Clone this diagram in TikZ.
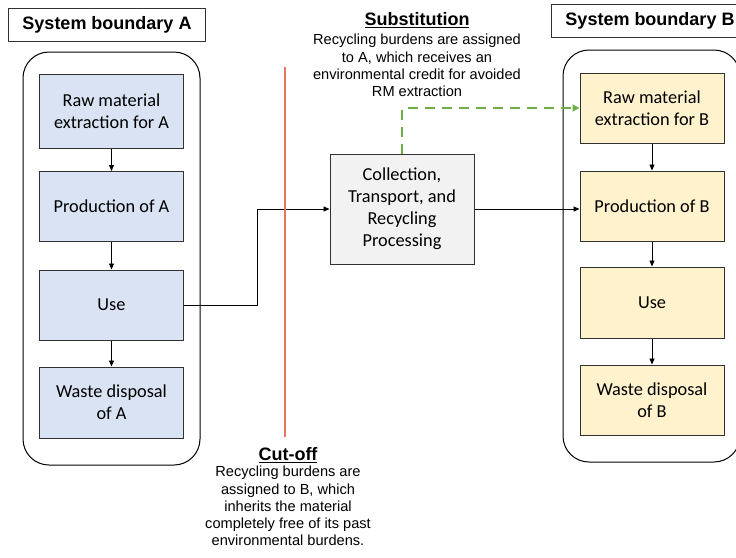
\documentclass[tikz,border=0pt]{standalone}
\usepackage{fontspec}
\setmainfont{Liberation Sans}
\newfontfamily\boxfont{Carlito}
\usetikzlibrary{arrows.meta}
\definecolor{fillA}{RGB}{218,227,243}
\definecolor{fillB}{RGB}{255,242,204}
\definecolor{fillC}{RGB}{242,242,242}
\definecolor{edge}{RGB}{50,50,50}
\definecolor{credit}{RGB}{112,173,71}
\definecolor{cutline}{RGB}{232,116,92}
\tikzset{
  stage/.style={draw=edge, line width=1pt, minimum width=144pt, align=center,
    font=\boxfont\fontsize{18.3}{22}\selectfont, inner sep=1pt},
  stageA/.style={stage, fill=fillA},
  stageB/.style={stage, fill=fillB},
  boundary/.style={draw=black, line width=1pt, rounded corners=26pt},
  tag/.style={draw=edge, line width=1pt, fill=white, font=\bfseries\fontsize{18}{20}\selectfont,
    minimum width=197pt, minimum height=33pt},
  flow/.style={draw=black, line width=0.9pt, -{Triangle[length=6pt,width=5pt]}},
  note/.style={align=center, font=\fontsize{14.6}{17.3}\selectfont, inner sep=0pt},
  notehead/.style={font=\bfseries\fontsize{18}{20}\selectfont, inner sep=0pt}
}
\begin{document}
\begin{tikzpicture}[x=1pt,y=-1pt]
\useasboundingbox (0,0) rectangle (736,557);

% system boundaries
\draw[boundary] (23,52) rectangle (200,465);
\draw[boundary] (563,50) rectangle (740,462);
\node[tag, anchor=north west] (tagA) at (8,8) {System boundary A};
\node[tag, anchor=north west] (tagB) at (551,4) {System boundary B};

% product system A
\node[stageA, minimum height=74pt] (rawA) at (111.5,111) {Raw material\\extraction for A};
\node[stageA, minimum height=70pt] (prodA) at (111.5,206.5) {Production of A};
\node[stageA, minimum height=70pt] (useA) at (111.5,305) {Use};
\node[stageA, minimum height=71pt] (wasteA) at (111.5,402.5) {Waste disposal\\of A};

% product system B
\node[stageB, minimum height=70pt] (rawB) at (652,108) {Raw material\\extraction for B};
\node[stageB, minimum height=70pt] (prodB) at (652,206) {Production of B};
\node[stageB, minimum height=71pt] (useB) at (652,302.5) {Use};
\node[stageB, minimum height=70pt] (wasteB) at (652,400) {Waste disposal\\of B};

% recycling process
\node[stage, fill=fillC, minimum height=110pt] (recyc) at (402,209)
  {Collection,\\Transport, and\\Recycling\\Processing};

% flows within A and B
\draw[flow] (rawA) -- (prodA);
\draw[flow] (prodA) -- (useA);
\draw[flow] (useA) -- (wasteA);
\draw[flow] (rawB) -- (prodB);
\draw[flow] (prodB) -- (useB);
\draw[flow] (useB) -- (wasteB);

% material flow through recycling
\coordinate (bend) at (257,305);
\draw[flow] (useA.east) -- (bend) |- (recyc.west);
\draw[flow] (recyc.east) -- (recyc.east -| prodB.west);

% substitution credit
\draw[credit, line width=2.5pt, dash pattern=on 10pt off 7pt,
  -{Triangle[length=7pt,width=7pt]}]
  (recyc.north) |- (rawB.west);

% cut-off line
\coordinate (cutTop) at (285,67);
\coordinate (cutBot) at (285,437);
\draw[cutline, line width=2.2pt] (cutTop) -- (cutBot);

% approach notes
\node[notehead] (subHead) at (417,20) {\underline{Substitution}};
\node[note, anchor=north] (subText) at (417,34)
  {Recycling burdens are assigned\\to A, which receives an\\environmental credit for avoided\\RM extraction};
\node[notehead] (cutHead) at (288,455) {\underline{Cut-off}};
\node[note, anchor=north] (cutText) at (288,466)
  {Recycling burdens are\\assigned to B, which\\inherits the material\\completely free of its past\\environmental burdens.};
\end{tikzpicture}
\end{document}
